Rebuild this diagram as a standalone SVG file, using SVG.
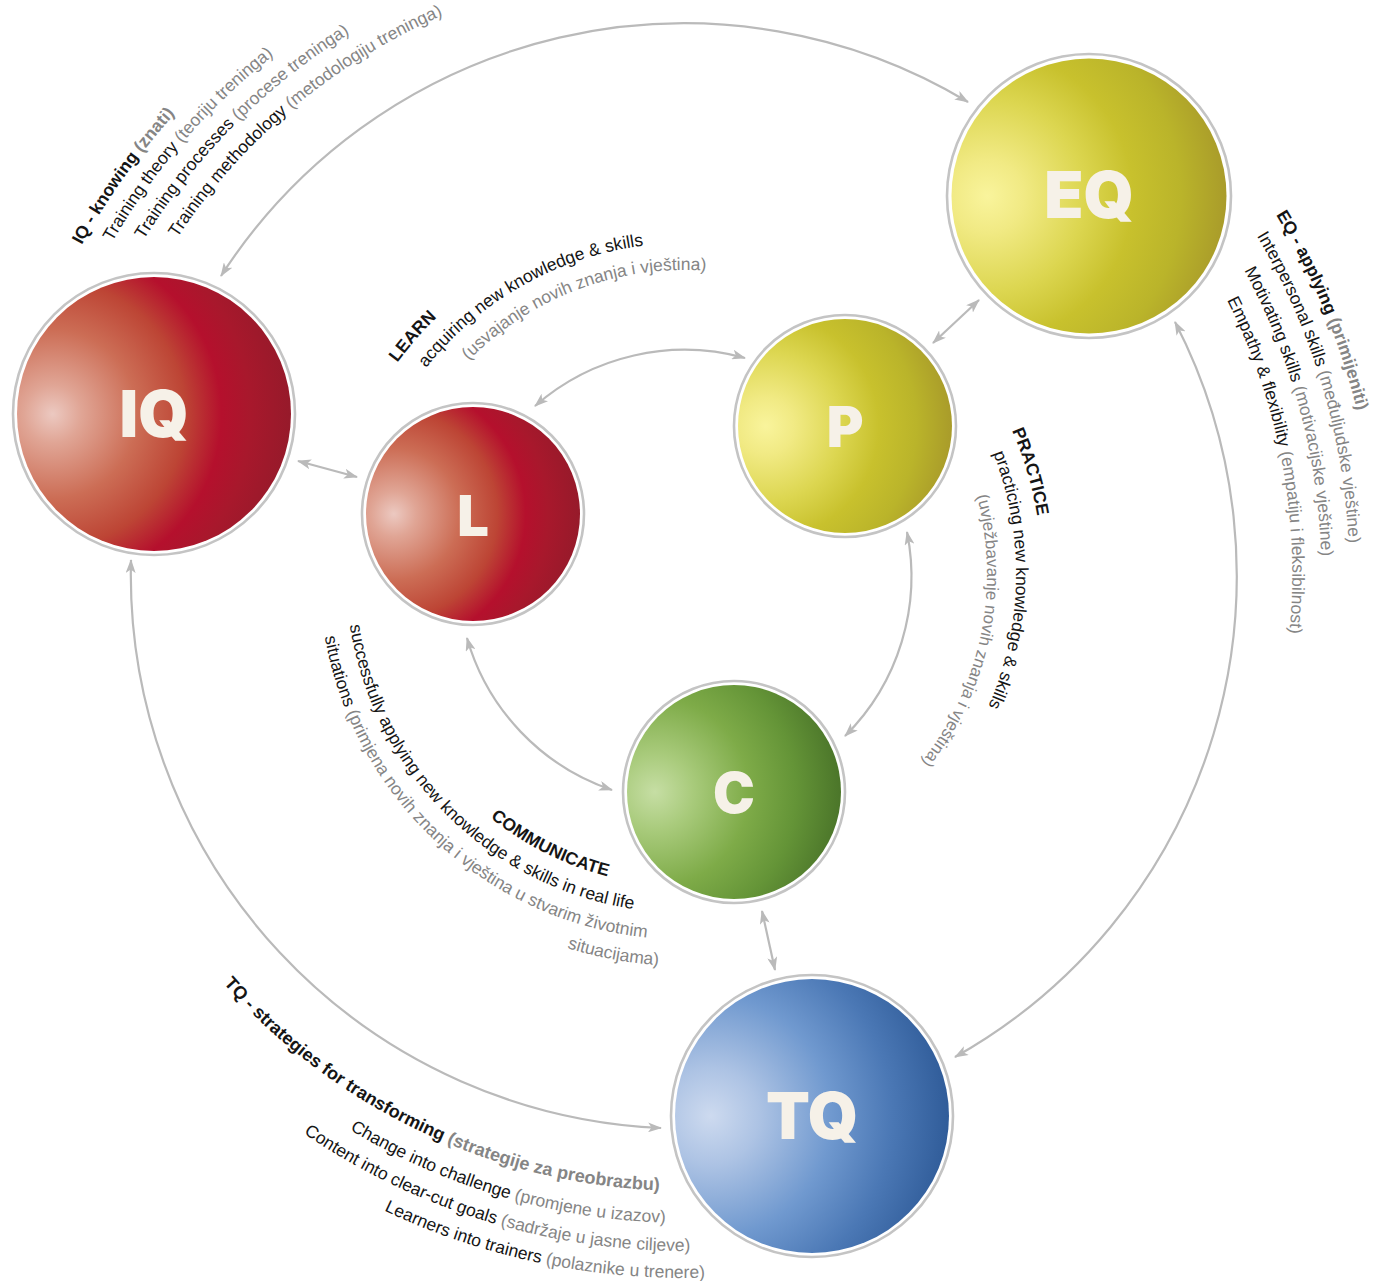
<svg xmlns="http://www.w3.org/2000/svg" width="1381" height="1281" viewBox="0 0 1381 1281">
<style>
.ring{fill:#fff;stroke:#c4c4c4;stroke-width:2.6}
.lbl{font-family:Inter,"Liberation Sans",Arial,sans-serif;font-weight:900;fill:#f6f1e8;text-anchor:middle}
.big{font-size:64px}
.sm{font-size:56px}
.t{font-family:"Liberation Sans",Arial,sans-serif;font-size:17.5px;fill:#151515}
.b{font-weight:bold}
.g{fill:#858585}
.conn{fill:none;stroke:#bababa;stroke-width:2.2;marker-start:url(#ah);marker-end:url(#ah)}
</style>
<defs>
<marker id="ah" viewBox="0 0 14 10" refX="13" refY="5" markerWidth="14" markerHeight="10" markerUnits="userSpaceOnUse" orient="auto-start-reverse">
<path d="M0,0 L14,5 L0,10 L3.5,5 Z" fill="#bababa"/>
</marker>
<radialGradient id="gRed" cx="0.13" cy="0.5" r="0.88" fx="0.13" fy="0.5">
<stop offset="0" stop-color="#ecc9c1"/>
<stop offset="0.12" stop-color="#e0a595"/>
<stop offset="0.35" stop-color="#cc6d55"/>
<stop offset="0.55" stop-color="#bd4535"/>
<stop offset="0.7" stop-color="#b5102d"/>
<stop offset="0.82" stop-color="#a8182c"/>
<stop offset="1" stop-color="#951a2a"/>
</radialGradient>
<radialGradient id="gYel" cx="0.13" cy="0.5" r="0.88" fx="0.13" fy="0.5">
<stop offset="0" stop-color="#f9f49c"/>
<stop offset="0.15" stop-color="#f1ea84"/>
<stop offset="0.4" stop-color="#dcd650"/>
<stop offset="0.6" stop-color="#c8c12d"/>
<stop offset="0.8" stop-color="#bab42a"/>
<stop offset="1" stop-color="#a89a2a"/>
</radialGradient>
<radialGradient id="gGrn" cx="0.13" cy="0.5" r="0.88" fx="0.13" fy="0.5">
<stop offset="0" stop-color="#c6dea4"/>
<stop offset="0.2" stop-color="#a9cb7c"/>
<stop offset="0.5" stop-color="#7eab48"/>
<stop offset="0.75" stop-color="#649437"/>
<stop offset="1" stop-color="#4a7429"/>
</radialGradient>
<radialGradient id="gBlu" cx="0.13" cy="0.5" r="0.88" fx="0.13" fy="0.5">
<stop offset="0" stop-color="#cddaef"/>
<stop offset="0.2" stop-color="#adc3e4"/>
<stop offset="0.5" stop-color="#7099cf"/>
<stop offset="0.75" stop-color="#4b78b5"/>
<stop offset="1" stop-color="#2f5b98"/>
</radialGradient>
<path id="pIQ1" d="M 81.8 245.1 A 687 687 0 0 1 1271.4 216.1"/>
<path id="pIQ2" d="M 112.2 242.0 A 662 662 0 0 1 1258.9 244.0"/>
<path id="pIQ3" d="M 143.9 239.8 A 636 636 0 0 1 1245.0 272.5"/>
<path id="pIQ4" d="M 177.2 237.9 A 609 609 0 0 1 1230.0 302.3"/>
<path id="pEQ1" d="M 1275.9 214.8 A 691.5 691.5 0 0 1 700.7 1265.3"/>
<path id="pEQ2" d="M 1256.8 235.8 A 664.4 664.4 0 0 1 692.0 1238.4"/>
<path id="pEQ3" d="M 1244.2 270.4 A 636.3 636.3 0 0 1 668.3 1210.1"/>
<path id="pEQ4" d="M 1227.1 300.2 A 607.3 607.3 0 0 1 651.1 1180.3"/>
<path id="pTQ1" d="M 223.6 983.6 A 617 617 0 0 0 1270.5 768.7"/>
<path id="pTQ2" d="M 349.8 1129.7 A 649 649 0 0 0 1333.9 586.5"/>
<path id="pTQ3" d="M 303.5 1133.3 A 677 677 0 0 0 1360.1 624.8"/>
<path id="pTQ4" d="M 384.1 1210.5 A 704 704 0 0 0 1386.6 516.3"/>
<path id="pL1" d="M 397.3 362.7 A 357 357 0 0 1 1011.9 430.5"/>
<path id="pL2" d="M 426.0 368.0 A 331 331 0 0 1 993.0 452.7"/>
<path id="pL3" d="M 468.6 360.5 A 304 304 0 0 1 978.1 493.3"/>
<path id="pP1" d="M 1011.9 430.5 A 357 357 0 0 1 645.8 928.9"/>
<path id="pP2" d="M 993.2 453.2 A 331 331 0 0 1 635.5 901.3"/>
<path id="pP3" d="M 976.7 495.8 A 302 302 0 0 1 606.8 865.7"/>
<path id="pC1" d="M 490.3 817.8 A 312 312 0 0 0 993.5 620.6"/>
<path id="pC2" d="M 349.9 625.3 A 339 339 0 0 0 896.9 838.6"/>
<path id="pC3" d="M 324.9 636.8 A 365.5 365.5 0 0 0 919.4 854.5"/>
<path id="pC4" d="M 567.1 947.9 A 392 392 0 0 0 1067.7 489.2"/>
</defs>
<rect width="1381" height="1281" fill="#fff"/>

<g id="connectors">
<path class="conn" d="M 221 276 A 551 551 0 0 1 968 102"/>
<path class="conn" d="M 1175 322 A 552 552 0 0 1 955 1057"/>
<path class="conn" d="M 661 1128 A 554 554 0 0 1 131 560"/>
<path class="conn" d="M 298 461 L 357 477"/>
<path class="conn" d="M 535 406 A 227 227 0 0 1 745 358"/>
<path class="conn" d="M 933 343 L 979 300"/>
<path class="conn" d="M 907 532 A 225 225 0 0 1 845 736"/>
<path class="conn" d="M 612 790 A 226 226 0 0 1 467 638"/>
<path class="conn" d="M 762 911 L 775 970"/>
</g>

<g id="node-IQ">
<circle class="ring" cx="154" cy="414" r="141"/>
<circle cx="154" cy="414" r="137" fill="url(#gRed)"/>
<text class="lbl big" x="154" y="437">IQ</text>
</g>
<g id="node-EQ">
<circle class="ring" cx="1089" cy="196" r="142"/>
<circle cx="1089" cy="196" r="137.5" fill="url(#gYel)"/>
<text class="lbl big" x="1089" y="218">EQ</text>
</g>
<g id="node-TQ">
<circle class="ring" cx="812" cy="1116" r="141"/>
<circle cx="812" cy="1116" r="137" fill="url(#gBlu)"/>
<text class="lbl big" x="812" y="1139">TQ</text>
</g>
<g id="node-L">
<circle class="ring" cx="473" cy="514" r="111"/>
<circle cx="473" cy="514" r="107" fill="url(#gRed)"/>
<text class="lbl sm" x="473" y="536">L</text>
</g>
<g id="node-P">
<circle class="ring" cx="845" cy="426" r="111"/>
<circle cx="845" cy="426" r="107" fill="url(#gYel)"/>
<text class="lbl sm" x="845" y="447">P</text>
</g>
<g id="node-C">
<circle class="ring" cx="734" cy="792" r="111"/>
<circle cx="734" cy="792" r="107" fill="url(#gGrn)"/>
<text class="lbl sm" x="734" y="813">C</text>
</g>

<g id="text-IQ" class="t">
<text><textPath href="#pIQ1"><tspan class="b">IQ - knowing </tspan><tspan class="b g">(znati)</tspan></textPath></text>
<text><textPath href="#pIQ2">Training theory <tspan class="g">(teoriju treninga)</tspan></textPath></text>
<text><textPath href="#pIQ3">Training processes <tspan class="g">(procese treninga)</tspan></textPath></text>
<text><textPath href="#pIQ4">Training methodology <tspan class="g">(metodologiju treninga)</tspan></textPath></text>
</g>
<g id="text-EQ" class="t">
<text><textPath href="#pEQ1"><tspan class="b">EQ - applying </tspan><tspan class="b g">(primijeniti)</tspan></textPath></text>
<text><textPath href="#pEQ2">Interpersonal skills <tspan class="g">(međuljudske vještine)</tspan></textPath></text>
<text><textPath href="#pEQ3">Motivating skills <tspan class="g">(motivacijske vještine)</tspan></textPath></text>
<text><textPath href="#pEQ4">Empathy &amp; flexibility <tspan class="g">(empatiju i fleksibilnost)</tspan></textPath></text>
</g>
<g id="text-TQ" class="t">
<text style="font-size:18px"><textPath href="#pTQ1"><tspan class="b">TQ - strategies for transforming </tspan><tspan class="b g">(strategije za preobrazbu)</tspan></textPath></text>
<text><textPath href="#pTQ2">Change into challenge <tspan class="g">(promjene u izazov)</tspan></textPath></text>
<text><textPath href="#pTQ3">Content into clear-cut goals <tspan class="g">(sadržaje u jasne ciljeve)</tspan></textPath></text>
<text><textPath href="#pTQ4">Learners into trainers <tspan class="g">(polaznike u trenere)</tspan></textPath></text>
</g>
<g id="text-L" class="t">
<text class="b"><textPath href="#pL1">LEARN</textPath></text>
<text><textPath href="#pL2">acquiring new knowledge &amp; skills</textPath></text>
<text class="g"><textPath href="#pL3">(usvajanje novih znanja i vještina)</textPath></text>
</g>
<g id="text-P" class="t">
<text class="b"><textPath href="#pP1">PRACTICE</textPath></text>
<text><textPath href="#pP2">practicing new knowledge &amp; skills</textPath></text>
<text class="g" style="font-size:17px"><textPath href="#pP3">(uvježbavanje novih znanja i vještina)</textPath></text>
</g>
<g id="text-C" class="t">
<text class="b"><textPath href="#pC1">COMMUNICATE</textPath></text>
<text><textPath href="#pC2">successfully applying new knowledge &amp; skills in real life</textPath></text>
<text><textPath href="#pC3">situations <tspan class="g">(primjena novih znanja i vještina u stvarim životnim</tspan></textPath></text>
<text class="g"><textPath href="#pC4">situacijama)</textPath></text>
</g>
</svg>
